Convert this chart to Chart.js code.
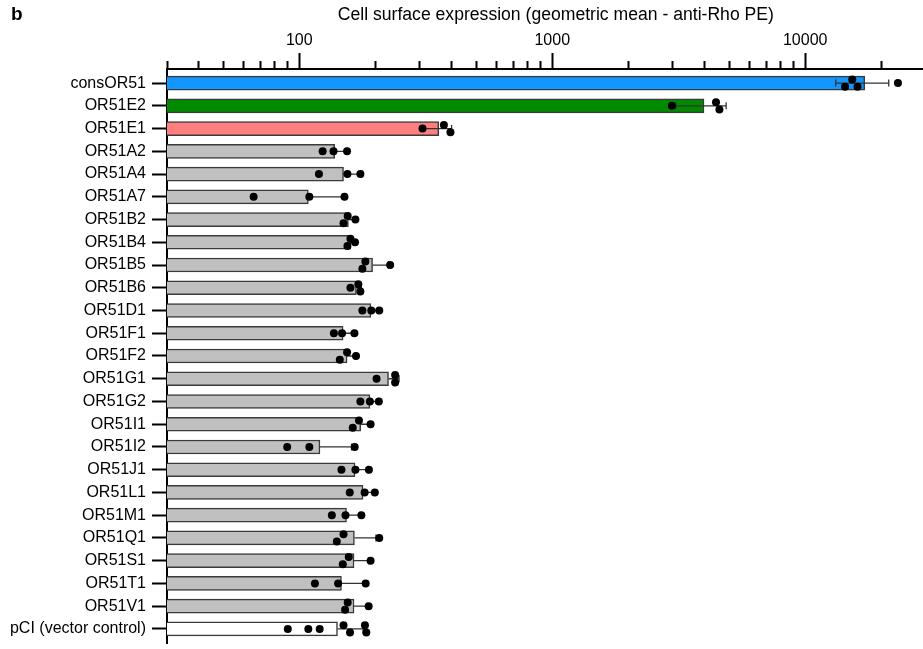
<!DOCTYPE html>
<html>
<head>
<meta charset="utf-8">
<script src="https://cdn.jsdelivr.net/npm/chart.js@4"></script>
<style>
  body { margin: 0; overflow: hidden; background: #fff; }
  #wrap { position: relative; width: 950px; height: 649px; }
  #panel { position: absolute; left: 11px; top: 4px; font: bold 19px 'Liberation Sans', Arial, sans-serif; line-height: 19px; color: #000; }
</style>
</head>
<body>
<div id="wrap">
  <canvas id="chart"></canvas>
  <div id="panel">b</div>
</div>
<script>
// receptor names, top to bottom
const categories = ['consOR51', 'OR51E2', 'OR51E1', 'OR51A2', 'OR51A4', 'OR51A7', 'OR51B2', 'OR51B4',
    'OR51B5', 'OR51B6', 'OR51D1', 'OR51F1', 'OR51F2', 'OR51G1', 'OR51G2', 'OR51I1', 'OR51I2',
    'OR51J1', 'OR51L1', 'OR51M1', 'OR51Q1', 'OR51S1', 'OR51T1', 'OR51V1', 'pCI (vector control)'];

// bar height = mean
const means = [17190, 3980, 356, 138, 149.6, 108.6, 156.4, 159.8, 194.9, 168.2, 191.9, 149, 154.5,
    225.3, 190.2, 174.9, 120.7, 166.1, 178.6, 153.7, 165.2, 164.6, 146.8, 164.6, 141.6];

// error bar ends (null = no lower whisker drawn)
const errLow = [13200, 3080, 312, null, null, null, null, null, null, null, null, null, null,
    null, null, null, null, null, null, null, null, null, null, null, null];
const errHigh = [21390, 4870, 400, 154, 177, 151, 165, 165, 225, 176, 207, 164, 166,
    248, 206, 190, 161, 187, 199, 174, 201, 188, 181, 185, 179];

// individual replicates
const replicates = [
    [15350, 14370, 16100, 23260],
    [2970, 4440, 4580],
    [307, 373, 396],
    [123.7, 136.6, 154.5],
    [119.6, 155, 174.4],
    [66, 109.6, 150.9],
    [155.4, 149.6, 166.7],
    [159.3, 155, 166.1],
    [182.5, 177.6, 228.7],
    [171.2, 159.3, 174.4],
    [177.6, 192.6, 207.1],
    [137, 147.6, 165.2],
    [154.5, 144.6, 167.6],
    [202.1, 239.3, 239.3],
    [174.4, 190.2, 206.3],
    [172.2, 162.7, 191.4],
    [89.6, 109.6, 165.6],
    [146.8, 166.7, 188.5],
    [158.3, 181.3, 198.9],
    [134.5, 152.3, 176],
    [149.6, 140.7, 207.1],
    [156.9, 148.6, 191.4],
    [115.3, 142.4, 183],
    [155.4, 151.7, 188],
    [90.1, 108.6, 120.4, 149.6, 158.7, 181.8, 184.1],
];
// jitter lane of each replicate: -1 above, 0 centre, 1 below
const lanes = [
    [-1, 1, 1, 0], [0, -1, 1], [0, -1, 1], [0, 0, 0], [0, 0, 0], [0, 0, 0], [-1, 1, 0], [-1, 1, 0],
    [-1, 1, 0], [-1, 0, 1], [0, 0, 0], [0, 0, 0], [-1, 1, 0], [0, -1, 1], [0, 0, 0], [-1, 1, 0],
    [0, 0, 0], [0, 0, 0], [0, 0, 0], [0, 0, 0], [-1, 1, 0], [-1, 1, 0], [0, 0, 0], [-1, 1, 0],
    [0, 0, 0, -1, 1, -1, 1],
];

const xTicks = [30, 40, 50, 60, 70, 80, 90, 100, 200, 300, 400, 500, 600, 700, 800, 900,
    1000, 2000, 3000, 4000, 5000, 6000, 7000, 8000, 9000, 10000, 20000, 30000];
const xLabels = [100, 1000, 10000];

const barColors = ['#1296ff', '#008a00', '#ff7f7f'].concat(Array(21).fill('#c0c0c0'), ['#ffffff']);

Chart.defaults.font.family = "'Liberation Sans', Arial, sans-serif";
Chart.defaults.font.size = 16;
Chart.defaults.color = '#000';

const LANE = 0.16;

const errorSets = categories.map((c, i) => ({
    type: 'line',
    data: [{ x: errLow[i] ?? means[i], y: i }, { x: errHigh[i], y: i }],
    borderColor: '#333',
    borderWidth: 1.3,
    pointRadius: 0,
    fill: false,
    order: 3,
}));

const caps = [];
categories.forEach((c, i) => {
    if (errLow[i] != null) caps.push({ x: errLow[i], y: i });
    caps.push({ x: errHigh[i], y: i });
});

const dots = [];
replicates.forEach((row, i) => {
    row.forEach((v, j) => dots.push({ x: v, y: i + lanes[i][j] * LANE }));
});

new Chart(document.getElementById('chart'), {
    type: 'bar',
    data: {
        datasets: [
            {
                type: 'scatter',
                data: dots,
                pointRadius: 4,
                backgroundColor: '#000',
                borderWidth: 0,
                order: 1,
            },
            {
                type: 'scatter',
                data: caps,
                pointStyle: 'line',
                rotation: 90,
                pointRadius: 3.5,
                borderColor: '#333',
                borderWidth: 1.3,
                order: 2,
            },
            ...errorSets,
            {
                type: 'bar',
                data: means.map((m, i) => ({ x: m, y: i })),
                backgroundColor: barColors,
                borderColor: '#3a3a3a',
                borderWidth: 1.5,
                barThickness: 14,
                order: 4,
            },
        ]
    },
    options: {
        indexAxis: 'y',
        responsive: true,
        maintainAspectRatio: false,
        animation: false,
        layout: { padding: { left: 0, right: 0, top: 0, bottom: 6 } },
        scales: {
            x: {
                type: 'logarithmic',
                position: 'top',
                min: 30,
                max: 35600,
                afterBuildTicks: s => { s.ticks = xTicks.map(v => ({ value: v })); },
                afterFit: s => { s.height = 69; s.paddingLeft = 0; s.paddingRight = 0; },
                ticks: {
                    autoSkip: false,
                    maxRotation: 0,
                    padding: 3,
                    callback: v => xLabels.includes(v) ? String(v) : '',
                },
                grid: {
                    drawOnChartArea: false,
                    tickLength: 16,
                    tickWidth: 2,
                    tickColor: '#000',
                    tickBorderDash: ctx => (ctx.tick && xLabels.includes(ctx.tick.value)) ? [] : [8, 8],
                    tickBorderDashOffset: ctx => (ctx.tick && xLabels.includes(ctx.tick.value)) ? 0 : 8,
                },
                border: { color: '#000', width: 2 },
                title: {
                    display: true,
                    text: 'Cell surface expression (geometric mean - anti-Rho PE)',
                    font: { size: 17.6 },
                    padding: { top: 4.5, bottom: 0 },
                },
            },
            y: {
                type: 'linear',
                reverse: true,
                offset: false,
                min: -0.62,
                max: 24.62,
                afterBuildTicks: s => { s.ticks = categories.map((c, i) => ({ value: i })); },
                afterFit: s => { s.width = 167; s.paddingTop = 0; s.paddingBottom = 0; },
                ticks: {
                    autoSkip: false,
                    padding: 6,
                    callback: v => categories[v],
                },
                grid: {
                    offset: false,
                    drawOnChartArea: false,
                    tickLength: 15,
                    tickWidth: 2,
                    tickColor: '#000',
                },
                border: { color: '#000', width: 2 },
            },
        },
        plugins: {
            legend: { display: false },
            tooltip: { enabled: false },
        }
    }
});
</script>
</body>
</html>
